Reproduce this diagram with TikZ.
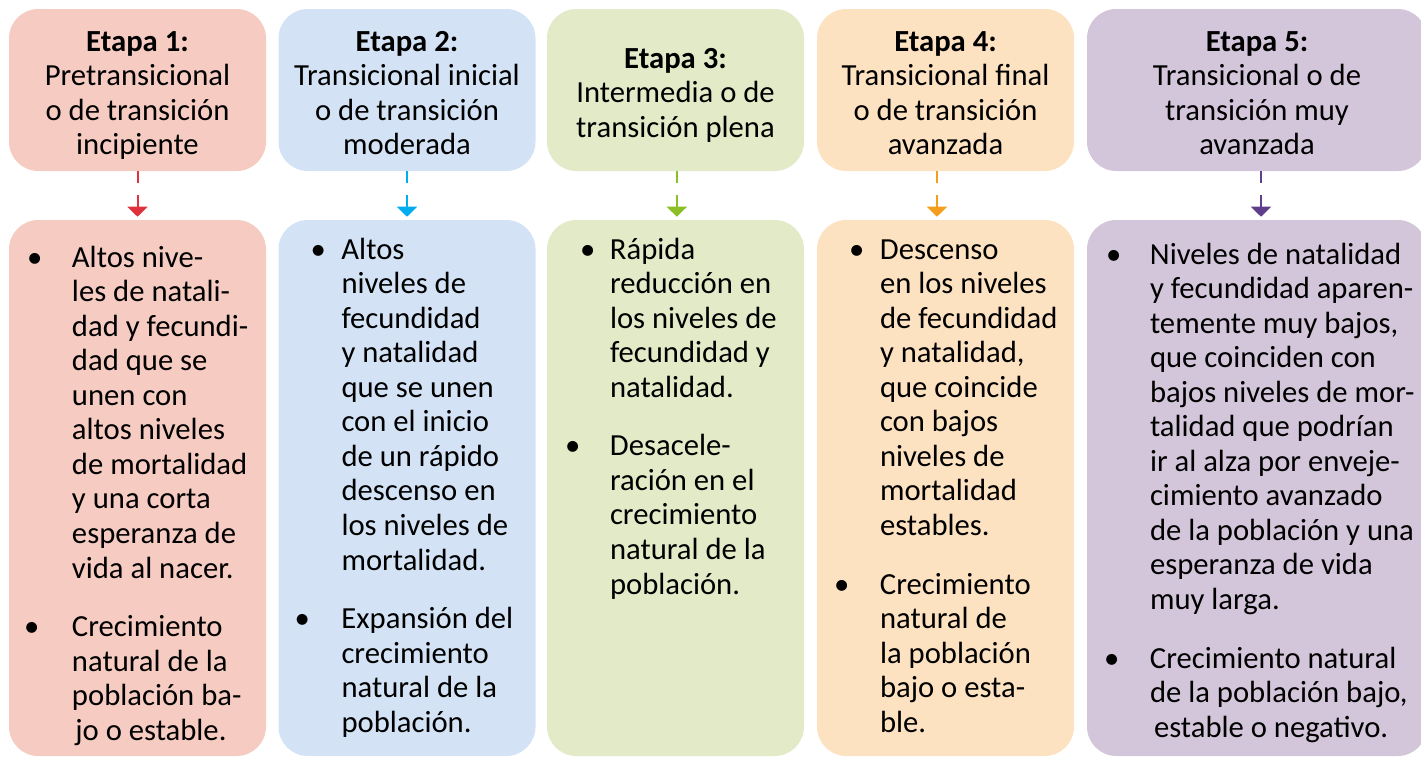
\documentclass[tikz,border=0pt]{standalone}
\usepackage{fontspec}
\setmainfont{Carlito}
\usetikzlibrary{arrows.meta}
\definecolor{rosaclaro}{RGB}{246,203,193}
\definecolor{azulclaro}{RGB}{211,227,245}
\definecolor{verdeclaro}{RGB}{227,234,199}
\definecolor{naranjaclaro}{RGB}{253,226,193}
\definecolor{lilaclaro}{RGB}{211,198,218}
\definecolor{rojoflecha}{RGB}{224,50,60}
\definecolor{azulflecha}{RGB}{0,173,239}
\definecolor{verdeflecha}{RGB}{140,191,38}
\definecolor{naranjaflecha}{RGB}{245,157,28}
\definecolor{moradoflecha}{RGB}{95,63,140}
\newcommand{\titulo}[1]{\begin{tabular}{@{}c@{}}\rule{0pt}{27pt}#1\end{tabular}}
\newcommand{\vineta}[2]{\par\noindent\makebox[47.25pt][l]{\hspace*{#1}\textbullet}%
    \begin{tabular}[t]{@{}l@{}}#2\end{tabular}\par}
\newcommand{\espacio}{\vspace{17pt}}

\begin{document}
\begin{tikzpicture}[x=0.75pt, y=-0.75pt,
    etapa/.style={rectangle, rounded corners=22pt, minimum width=192.75pt,
        minimum height=121.5pt, inner sep=0pt,
        font=\fontsize{23}{25.9}\selectfont},
    detalle/.style={rectangle, rounded corners=22pt, inner sep=0pt,
        font=\fontsize{23}{25.9}\selectfont},
    flecha/.style={-{Triangle[width=15pt, length=7.5pt]}, line width=1.5pt,
        dash pattern=on 9pt off 9pt, shorten >=2.25pt}
]
    \useasboundingbox (0,0) rectangle (1421,761);

    % Etapas
    \node[etapa, fill=rosaclaro] (a1) at (137.5,90)
        {\titulo{\textbf{Etapa 1:}\\Pretransicional\\o de transición\\incipiente}};
    \node[etapa, fill=azulclaro] (a2) at (407,90)
        {\titulo{\textbf{Etapa 2:}\\Transicional inicial\\o de transición\\moderada}};
    \node[etapa, fill=verdeclaro] (a3) at (675.5,90)
        {\titulo{\textbf{Etapa 3:}\\Intermedia o de\\transición plena}};
    \node[etapa, fill=naranjaclaro] (a4) at (945.5,90)
        {\titulo{\textbf{Etapa 4:}\\Transicional final\\o de transición\\avanzada}};
    \node[etapa, fill=lilaclaro, minimum width=255pt] (a5) at (1257,90)
        {\titulo{\textbf{Etapa 5:}\\Transicional o de\\transición muy\\avanzada}};

    % Descripciones
    \node[detalle, fill=rosaclaro] (d1) at (137.5,488)
        {\parbox[c][402pt][t]{192.75pt}{\vspace*{17.3pt}%
        \vineta{13.5pt}{Altos nive-\\les de natali-\\dad y fecundi-\\dad que se\\unen con\\altos niveles\\de mortalidad\\y una corta\\esperanza de\\vida al nacer.}
        \espacio
        \vineta{11.25pt}{Crecimiento\\natural de la\\población ba-\\\hspace{2.5pt}jo o estable.}}};
    \node[detalle, fill=azulclaro] (d2) at (407,488)
        {\parbox[c][402pt][t]{192.75pt}{\vspace*{11.3pt}%
        \vineta{24pt}{Altos\\niveles de\\fecundidad\\y natalidad\\que se unen\\con el inicio\\de un rápido\\descenso en\\los niveles de\\mortalidad.}
        \espacio
        \vineta{12pt}{Expansión del\\crecimiento\\natural de la\\población.}}};
    \node[detalle, fill=verdeclaro] (d3) at (675.5,488)
        {\parbox[c][402pt][t]{192.75pt}{\vspace*{11.3pt}%
        \vineta{24.75pt}{Rápida\\reducción en\\los niveles de\\fecundidad y\\natalidad.}
        \espacio
        \vineta{13.5pt}{Desacele-\\ración en el\\crecimiento\\natural de la\\población.}}};
    \node[detalle, fill=naranjaclaro] (d4) at (945.5,488)
        {\parbox[c][402pt][t]{192.75pt}{\vspace*{11.3pt}%
        \vineta{24pt}{Descenso\\en los niveles\\de fecundidad\\y natalidad,\\que coincide\\con bajos\\niveles de\\mortalidad\\estables.}
        \espacio
        \vineta{12.75pt}{Crecimiento\\natural de\\la población\\bajo o esta-\\ble.}}};
    \node[detalle, fill=lilaclaro] (d5) at (1257,488)
        {\parbox[c][402pt][t]{255pt}{\vspace*{15pt}%
        \vineta{14.25pt}{Niveles de natalidad\\y fecundidad aparen-\\temente muy bajos,\\que coinciden con\\bajos niveles de mor-\\talidad que podrían\\ir al alza por enveje-\\cimiento avanzado\\de la población y una\\esperanza de vida\\muy larga.}
        \espacio
        \vineta{12.75pt}{Crecimiento natural\\de la población bajo,\\\hspace{3pt}estable o negativo.}}};

    % Flechas
    \draw[flecha, rojoflecha] (a1.south) -- (d1.north);
    \draw[flecha, azulflecha] (a2.south) -- (d2.north);
    \draw[flecha, verdeflecha] ([xshift=1pt]a3.south) -- ([xshift=1pt]d3.north);
    \draw[flecha, naranjaflecha] ([xshift=-6.4pt]a4.south) -- ([xshift=-6.4pt]d4.north);
    \draw[flecha, moradoflecha] ([xshift=3pt]a5.south) -- ([xshift=3pt]d5.north);
\end{tikzpicture}
\end{document}
